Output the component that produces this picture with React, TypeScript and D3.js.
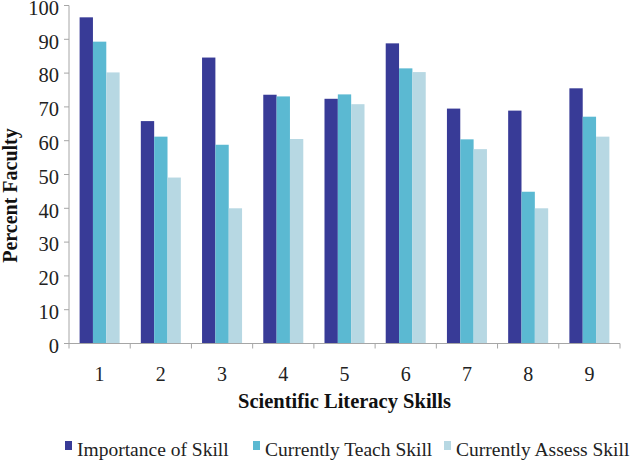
import React from "react";
import * as d3 from "d3";

const categories = ["1", "2", "3", "4", "5", "6", "7", "8", "9"];
const seriesNames = ["Importance of Skill", "Currently Teach Skill", "Currently Assess Skill"];
const importance = [96.5, 65.8, 84.6, 73.6, 72.4, 88.8, 69.5, 68.9, 75.5];
const teach = [89.3, 61.2, 58.8, 73.1, 73.7, 81.4, 60.4, 44.9, 67.1];
const assess = [80.2, 49.1, 40.0, 60.5, 70.8, 80.3, 57.5, 40.0, 61.2];
const yTicks = [0, 10, 20, 30, 40, 50, 60, 70, 80, 90, 100];
const colors = ["#383b97", "#5bb9d2", "#b7d8e3"];
const legendX = [65, 253, 444];

const W = 633;
const H = 461;
const left = 69;
const right = 620;
const top = 5.5;
const bottom = 343.5;
const font = "'Liberation Serif', 'Times New Roman', serif";

export default function App() {
  const values = [importance, teach, assess];
  const x0 = d3.scaleBand<string>().domain(categories).range([left, right]).padding(0);
  const x1 = d3
    .scaleBand<string>()
    .domain(seriesNames)
    .range([0, x0.step()])
    .paddingInner(0)
    .paddingOuter(0.795);
  const y = d3.scaleLinear().domain([0, 100]).range([bottom, top]);
  const axisColor = "#a6a6a6";
  const boundaries = d3.range(categories.length + 1).map((i) => left + i * x0.step());

  return (
    <svg width={W} height={H} style={{ position: "absolute", left: 0, top: 0 }}>
      <rect width={W} height={H} fill="#fff" />
      {values.map((vals, si) =>
        vals.map((v, ci) => (
          <rect
            key={`${si}-${ci}`}
            x={(x0(categories[ci]) ?? 0) + (x1(seriesNames[si]) ?? 0)}
            y={y(v)}
            width={x1.bandwidth()}
            height={bottom - y(v)}
            fill={colors[si]}
          />
        ))
      )}
      <line x1={left} x2={left} y1={top} y2={bottom} stroke={axisColor} strokeWidth={1} />
      {yTicks.map((t) => (
        <g key={t}>
          <line x1={left - 5} x2={left} y1={y(t)} y2={y(t)} stroke={axisColor} />
          <text
            x={59}
            y={y(t)}
            dy="0.45em"
            textAnchor="end"
            fontFamily={font}
            fontSize={20.5}
            fill="#222"
          >
            {t}
          </text>
        </g>
      ))}
      <line x1={left} x2={right} y1={bottom} y2={bottom} stroke={axisColor} strokeWidth={1} />
      {boundaries.map((bx, i) => (
        <line key={i} x1={bx} x2={bx} y1={bottom} y2={bottom + 5} stroke={axisColor} />
      ))}
      {categories.map((c) => (
        <text
          key={c}
          x={(x0(c) ?? 0) + x0.bandwidth() / 2}
          y={381}
          textAnchor="middle"
          fontFamily={font}
          fontSize={20}
          fill="#222"
        >
          {c}
        </text>
      ))}
      <text
        x={(left + right) / 2}
        y={408}
        textAnchor="middle"
        fontFamily={font}
        fontWeight="bold"
        fontSize={20.5}
        fill="#111"
      >
        Scientific Literacy Skills
      </text>
      <text
        transform={`translate(17, ${(128 + 263) / 2}) rotate(-90)`}
        textAnchor="middle"
        fontFamily={font}
        fontWeight="bold"
        fontSize={20}
        fill="#111"
      >
        Percent Faculty
      </text>
      {seriesNames.map((name, i) => (
        <g key={name} transform={`translate(${legendX[i]}, 0)`}>
          <rect x={0} y={441} width={7} height={9} fill={colors[i]} />
          <text x={12} y={456} fontFamily={font} fontSize={19.5} fill="#222">
            {name}
          </text>
        </g>
      ))}
    </svg>
  );
}
